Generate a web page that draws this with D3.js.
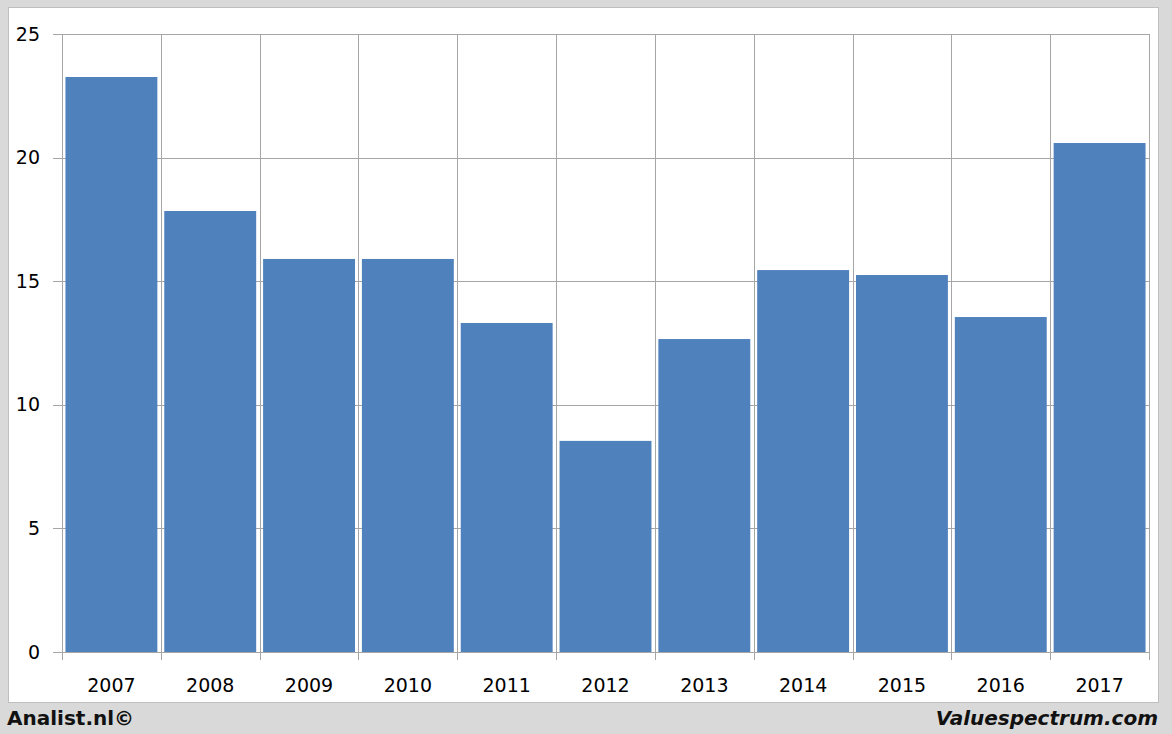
<!DOCTYPE html>
<html><head><meta charset="utf-8">
<script src="https://cdn.jsdelivr.net/npm/d3@7"></script>
<style>html,body{margin:0;padding:0;background:#d9d9d9;}svg{display:block;}</style>
</head><body>
<svg id="c" width="1172" height="734"></svg>
<script>
const categories = ["2007","2008","2009","2010","2011","2012","2013","2014","2015","2016","2017"];
const values = [23.26, 17.84, 15.9, 15.9, 13.31, 8.54, 12.66, 15.45, 15.25, 13.55, 20.59];
const yTicks = [0, 5, 10, 15, 20, 25];

const svg = d3.select("#c");
const W = 1172, H = 734;
const m = {left: 62, right: 1149, top: 34, bottom: 652};
const font = "'DejaVu Sans', 'Liberation Sans', sans-serif";

svg.append("rect").attr("x",0).attr("y",0).attr("width",W).attr("height",H).attr("fill","#d9d9d9");
svg.append("rect").attr("x",8.5).attr("y",7.5).attr("width",1150).attr("height",695)
  .attr("fill","#ffffff").attr("stroke","#bfbfbf").attr("stroke-width",1);

const x = d3.scaleBand().domain(categories).range([m.left, m.right]).paddingInner(0.07).paddingOuter(0.035);
const xb = d3.scaleBand().domain(categories).range([m.left, m.right]);
const y = d3.scaleLinear().domain([0, 25]).range([m.bottom, m.top]);

// horizontal gridlines
svg.append("g").selectAll("line").data(yTicks).join("line")
  .attr("x1", m.left - 9).attr("x2", m.right)
  .attr("y1", d => Math.round(y(d)) + 0.5).attr("y2", d => Math.round(y(d)) + 0.5)
  .attr("stroke", "#a6a6a6").attr("stroke-width", 1);

// vertical gridlines at category boundaries
const bounds = categories.map(c => xb(c)).concat([m.right]);
svg.append("g").selectAll("line").data(bounds).join("line")
  .attr("x1", d => Math.round(d) + 0.5).attr("x2", d => Math.round(d) + 0.5)
  .attr("y1", m.top).attr("y2", m.bottom + 8)
  .attr("stroke", "#a6a6a6").attr("stroke-width", 1);

// bars
svg.append("g").selectAll("rect").data(values).join("rect")
  .attr("x", (d,i) => x(categories[i]))
  .attr("width", x.bandwidth())
  .attr("y", d => y(d))
  .attr("height", d => y(0) - y(d))
  .attr("fill", "#4f81bd");

// y labels
svg.append("g").selectAll("text").data(yTicks).join("text")
  .attr("x", 40).attr("y", d => y(d)).attr("dy", "0.35em")
  .attr("text-anchor", "end").attr("font-family", font).attr("font-size", 19)
  .attr("fill", "#000").text(d => d);

// x labels
svg.append("g").selectAll("text").data(categories).join("text")
  .attr("x", d => xb(d) + xb.bandwidth()/2).attr("y", 685).attr("dy", "0.35em")
  .attr("text-anchor", "middle").attr("font-family", font).attr("font-size", 19)
  .attr("fill", "#000").text(d => d);

// footer
svg.append("text").attr("x", 7).attr("y", 725).attr("font-family", font)
  .attr("font-size", 20).attr("font-weight", "bold").attr("fill", "#111").text("Analist.nl©");
svg.append("text").attr("x", 1158).attr("y", 725).attr("text-anchor","end").attr("font-family", font)
  .attr("font-size", 20).attr("font-weight", "bold").attr("font-style","italic").attr("fill", "#111").text("Valuespectrum.com");
</script>
</body></html>
